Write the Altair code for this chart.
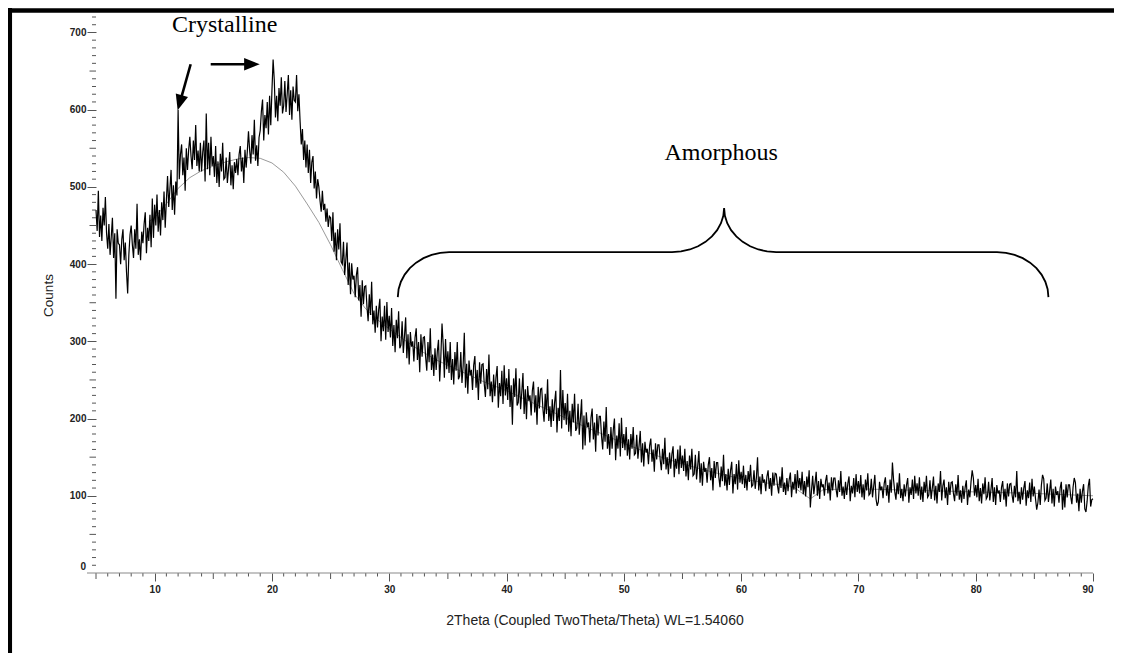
import altair as alt
import numpy as np
import pandas as pd

# ---------------- data (0.1 deg steps from 5.0) ----------------
THETA_START = 5.0
THETA_STEP = 0.1

counts_05_14 = [
    470, 443, 495, 435, 463, 430, 473, 450, 487, 440,
    420, 452, 412, 435, 460, 408, 440, 355, 445, 427,
    425, 400, 432, 445, 405, 428, 390, 362, 412, 438,
    450, 425, 408, 445, 420, 478, 412, 432, 405, 442,
    427, 452, 467, 414, 447, 430, 464, 422, 485, 434,
    477, 450, 490, 442, 470, 437, 480, 457, 494, 447,
    482, 514, 474, 497, 522, 470, 502, 464, 507, 489,
    600, 510, 542, 555, 515, 538, 495, 550, 522, 548,
    565, 540, 523, 560, 535, 580, 527, 547, 520, 557,
    520, 545, 560, 507, 595, 523, 557, 515, 565, 527,
]
counts_15_24 = [
    540, 513, 553, 505, 533, 500, 543, 520, 557, 510,
    512, 538, 505, 524, 545, 502, 528, 497, 532, 518,
    536, 515, 542, 553, 520, 538, 505, 548, 525, 546,
    572, 547, 530, 567, 542, 587, 534, 554, 527, 564,
    573, 598, 613, 560, 593, 576, 610, 568, 618, 580,
    625, 665, 638, 590, 618, 585, 628, 605, 642, 595,
    605, 637, 597, 620, 645, 593, 625, 587, 630, 612,
    610, 645, 598, 620, 585, 555, 575, 535, 560, 525,
    555, 518, 548, 505, 532, 540, 498, 520, 485, 510,
    500, 482, 468, 495, 470, 478, 455, 472, 448, 462,
]
counts_25_34 = [
    460, 430, 467, 416, 441, 405, 445, 419, 453, 403,
    400, 429, 386, 406, 428, 373, 402, 361, 401, 380,
    385, 357, 386, 396, 353, 373, 332, 379, 348, 371,
    372, 345, 326, 361, 334, 377, 322, 340, 311, 346,
    318, 341, 355, 300, 332, 313, 346, 302, 351, 312,
    333, 305, 343, 294, 321, 286, 328, 304, 339, 291,
    295, 326, 285, 307, 331, 278, 309, 270, 312, 293,
    300, 274, 305, 317, 276, 299, 260, 309, 280, 305,
    306, 280, 262, 299, 273, 317, 263, 283, 255, 291,
    263, 287, 302, 248, 280, 323, 296, 253, 303, 264,
]
counts_35_44 = [
    287, 259, 299, 250, 277, 244, 286, 262, 299, 251,
    255, 286, 246, 268, 311, 240, 271, 232, 275, 256,
    263, 237, 269, 281, 240, 263, 224, 273, 245, 270,
    271, 245, 228, 264, 238, 283, 229, 248, 221, 257,
    229, 253, 268, 214, 246, 229, 262, 219, 269, 230,
    252, 224, 264, 215, 243, 192, 252, 228, 265, 217,
    221, 252, 212, 234, 259, 206, 238, 199, 242, 223,
    230, 204, 236, 248, 208, 230, 192, 241, 213, 238,
    239, 213, 196, 232, 206, 251, 197, 216, 189, 225,
    197, 221, 236, 182, 214, 197, 263, 187, 237, 198,
]
counts_45_54 = [
    220, 192, 232, 183, 210, 177, 219, 195, 232, 184,
    188, 219, 179, 201, 225, 160, 204, 165, 208, 189,
    195, 169, 201, 213, 173, 195, 157, 206, 178, 203,
    203, 177, 160, 196, 170, 215, 161, 180, 153, 189,
    161, 185, 200, 146, 178, 161, 194, 151, 201, 162,
    180, 159, 189, 152, 173, 147, 180, 161, 189, 153,
    155, 179, 148, 165, 184, 143, 168, 138, 170, 156,
    161, 141, 165, 174, 144, 160, 131, 168, 147, 166,
    166, 147, 133, 161, 141, 175, 134, 150, 128, 156,
    135, 154, 164, 124, 148, 135, 160, 128, 165, 136,
]
counts_55_64 = [
    152, 132, 161, 125, 145, 120, 152, 134, 161, 126,
    128, 153, 121, 139, 158, 117, 142, 113, 144, 131,
    136, 117, 140, 150, 120, 136, 107, 145, 123, 143,
    143, 124, 111, 138, 119, 153, 113, 128, 107, 135,
    114, 133, 144, 103, 128, 115, 141, 108, 146, 117,
    131, 115, 139, 110, 127, 107, 132, 118, 140, 112,
    114, 133, 109, 123, 150, 107, 125, 102, 128, 117,
    121, 106, 125, 133, 109, 123, 100, 130, 113, 129,
    128, 113, 103, 125, 110, 137, 105, 117, 101, 123,
    106, 121, 130, 98, 118, 108, 128, 103, 133, 110,
]
counts_65_74 = [
    123, 107, 131, 102, 119, 99, 125, 111, 133, 85,
    107, 126, 102, 116, 131, 100, 119, 96, 122, 111,
    115, 100, 119, 127, 103, 117, 94, 124, 107, 123,
    123, 108, 98, 120, 105, 132, 100, 112, 96, 118,
    101, 116, 125, 93, 113, 103, 123, 98, 128, 105,
    119, 103, 127, 98, 115, 95, 121, 107, 129, 101,
    103, 122, 98, 112, 127, 96, 87, 92, 118, 107,
    112, 97, 116, 124, 100, 114, 91, 121, 104, 143,
    120, 105, 95, 117, 102, 129, 97, 109, 93, 115,
    99, 114, 123, 91, 111, 101, 121, 96, 126, 103,
]
counts_75_84 = [
    116, 100, 124, 95, 112, 92, 118, 104, 126, 98,
    101, 120, 96, 110, 125, 94, 113, 90, 116, 105,
    132, 94, 113, 121, 97, 111, 88, 118, 101, 117,
    118, 103, 93, 115, 100, 127, 95, 107, 91, 113,
    96, 111, 120, 88, 108, 98, 118, 133, 123, 100,
    114, 98, 122, 93, 110, 90, 116, 102, 124, 96,
    99, 118, 94, 108, 123, 92, 111, 88, 114, 103,
    107, 92, 111, 119, 95, 109, 86, 116, 99, 115,
    116, 101, 91, 113, 98, 132, 93, 105, 89, 111,
    95, 110, 119, 87, 107, 97, 117, 92, 122, 99,
]
counts_85_90 = [
    112, 96, 82, 91, 108, 88, 114, 127, 122, 94,
    97, 116, 92, 106, 121, 90, 109, 86, 112, 101,
    106, 91, 110, 118, 82, 108, 85, 115, 98, 114,
    114, 99, 89, 111, 123, 117, 91, 103, 80, 109,
    91, 106, 115, 83, 79, 93, 113, 122, 86, 95,
    96,
]

# smooth grey background (amorphous hump) curve
bg_theta = [9.5, 10, 11, 12, 13, 14, 15, 16, 17, 18, 19, 20, 21, 22,
            23, 24, 25, 26, 27, 28, 29, 30, 32, 34, 36, 38, 40, 42, 44, 46, 48,
            50, 52, 54, 56, 58, 60, 62, 64.4, 65.9, 67, 70, 75, 80, 85, 90]
bg_counts = [455, 460, 478, 498, 512, 521, 527, 532, 536,
             538, 537, 531, 519, 501, 478, 454, 425, 393, 362, 342, 328, 316,
             294, 276, 262, 248, 236, 222, 208, 194, 181, 168, 156, 146, 137,
             129, 122, 117, 112, 96, 108, 109, 107, 105, 103, 100]

x_label_ticks = [10, 20, 30, 40, 50, 60, 70, 80, 90]
y_label_ticks = [100, 200, 300, 400, 500, 600, 700]
y_zero_label = ["0"]
y_zero_counts = [8]

# annotations (data coordinates)
text_labels = ["Crystalline", "Amorphous"]
text_theta = [15.97, 58.3]
text_counts = [700.0, 534.6]

arrow_tail_theta = [13.07, 14.78]
arrow_tail_counts = [658.8, 658.8]
arrow_tip_theta = [11.96, 18.96]
arrow_tip_counts = [599.3, 658.8]
arrow_neck_theta = [12.15, 18.28]
arrow_neck_counts = [609.0, 658.8]
arrow_angle = [195.8, 90.0]

brace_left, brace_mid, brace_right = 30.73, 58.55, 86.2
brace_end_counts, brace_bar_counts, brace_tip_counts = 357.3, 415.5, 472.4
brace_curl_w, brace_tip_w = 4.38, 4.44

# ---------------- build tables ----------------
counts = (counts_05_14 + counts_15_24 + counts_25_34 + counts_35_44 + counts_45_54
          + counts_55_64 + counts_65_74 + counts_75_84 + counts_85_90)
theta = np.round(THETA_START + THETA_STEP * np.arange(len(counts)), 1)
scan = pd.DataFrame({"theta": theta, "counts": counts})
bg = pd.DataFrame({"theta": bg_theta, "counts": bg_counts})

phi = np.radians(np.linspace(0, 90, 10))
bx, by = [], []
bx += list(brace_left + brace_curl_w - brace_curl_w * np.cos(phi))
by += list(brace_end_counts + (brace_bar_counts - brace_end_counts) * np.sin(phi))
bx += list(brace_mid - brace_tip_w + brace_tip_w * np.sin(phi))
by += list(brace_tip_counts - (brace_tip_counts - brace_bar_counts) * np.cos(phi))
bx += list(brace_mid + brace_tip_w - brace_tip_w * np.cos(phi))
by += list(brace_bar_counts + (brace_tip_counts - brace_bar_counts) * (1 - np.sin(phi)))
bx += list(brace_right - brace_curl_w + brace_curl_w * np.sin(phi))
by += list(brace_end_counts + (brace_bar_counts - brace_end_counts) * np.cos(phi))
brace = pd.DataFrame({"theta": bx, "counts": by, "idx": np.arange(len(bx))})

texts = pd.DataFrame({"theta": text_theta, "counts": text_counts, "label": text_labels})
shafts = pd.DataFrame({"theta": arrow_tail_theta, "counts": arrow_tail_counts,
                       "theta2": arrow_neck_theta, "counts2": arrow_neck_counts})
heads = pd.DataFrame({"theta": arrow_tip_theta, "counts": arrow_tip_counts, "ang": arrow_angle})
zero_lab = pd.DataFrame({"counts": y_zero_counts, "label": y_zero_label})

y_minor = pd.DataFrame({"counts": [v for v in range(10, 730, 10) if v % 50 != 0]})
y_mid = pd.DataFrame({"counts": list(range(50, 700, 100))})
x_minor = pd.DataFrame({"theta": [v for v in range(6, 90) if v % 5 != 0]})
x_mid = pd.DataFrame({"theta": list(range(5, 90, 10))})
one = pd.DataFrame({"k": [0]})

# ---------------- chart ----------------
W, H = 997, 556
xs = alt.Scale(domain=[5, 90], nice=False, zero=False)
ys = alt.Scale(domain=[0, 720], nice=False, zero=False)
SANS = "Liberation Sans"

xaxis = alt.Axis(values=x_label_ticks, tickSize=8, tickColor="#555", tickWidth=1,
                 domain=False, grid=False, labelFont=SANS, labelFontSize=10,
                 labelFontWeight="bold", labelColor="#222", labelPadding=3,
                 title="2Theta (Coupled TwoTheta/Theta) WL=1.54060", titleFont=SANS,
                 titleFontSize=14, titleFontWeight="normal", titleColor="#222",
                 titlePadding=19)
yaxis = alt.Axis(values=y_label_ticks, tickSize=9, tickColor="#555", tickWidth=1,
                 domain=False, grid=False, labelFont=SANS, labelFontSize=10,
                 labelFontWeight="bold", labelColor="#222", labelPadding=1,
                 title="Counts", titleFont=SANS, titleFontSize=13.5,
                 titleFontWeight="normal", titleColor="#222", titlePadding=14)

X = alt.X("theta:Q", scale=xs)
Y = alt.Y("counts:Q", scale=ys)

bg_line = alt.Chart(bg).mark_line(color="#9a9a9a", strokeWidth=1).encode(
    x=alt.X("theta:Q", scale=xs, axis=xaxis),
    y=alt.Y("counts:Q", scale=ys, axis=yaxis),
)
scan_line = alt.Chart(scan).mark_line(color="#000000", strokeWidth=1.2).encode(x=X, y=Y)

ytick_minor = alt.Chart(y_minor).mark_rule(color="#555", strokeWidth=1).encode(
    y=Y, x=alt.value(-4), x2=alt.value(0))
ytick_mid = alt.Chart(y_mid).mark_rule(color="#555", strokeWidth=1).encode(
    y=Y, x=alt.value(-6.5), x2=alt.value(0))
zero_text = alt.Chart(zero_lab).mark_text(font=SANS, fontSize=10, fontWeight="bold",
                                           color="#222", align="right",
                                           baseline="middle").encode(
    y=Y, x=alt.value(-10), text="label:N")
xtick_minor = alt.Chart(x_minor).mark_rule(color="#555", strokeWidth=1).encode(
    x=X, y=alt.value(H), y2=alt.value(H + 3.5))
xtick_mid = alt.Chart(x_mid).mark_rule(color="#555", strokeWidth=1).encode(
    x=X, y=alt.value(H), y2=alt.value(H + 6))
x_domain = alt.Chart(one).mark_rule(color="#8a8a8a", strokeWidth=1.2).encode(
    x=alt.value(-9), x2=alt.value(W), y=alt.value(H))

frame_top = alt.Chart(one).mark_rule(color="#000", strokeWidth=4.5).encode(
    x=alt.value(-90), x2=alt.value(W + 30), y=alt.value(-6.5))
frame_left = alt.Chart(one).mark_rule(color="#000", strokeWidth=4.5).encode(
    x=alt.value(-86.2), y=alt.value(-9), y2=alt.value(H + 100))

text_layer = alt.Chart(texts).mark_text(font="Liberation Serif", fontSize=24,
                                         align="center", baseline="alphabetic",
                                         color="#000").encode(x=X, y=Y, text="label:N")
shaft_layer = alt.Chart(shafts).mark_rule(color="#000", strokeWidth=2.6).encode(
    x=X, y=Y, x2="theta2:Q", y2="counts2:Q")
head_layer = alt.Chart(heads).mark_point(shape="M0,0L0.65,1.6L-0.65,1.6Z", filled=True,
                                         color="#000", opacity=1, size=380,
                                         strokeWidth=0).encode(
    x=X, y=Y, angle=alt.Angle("ang:Q", scale=None))
brace_layer = alt.Chart(brace).mark_line(color="#000", strokeWidth=1.8).encode(
    x=X, y=Y, order=alt.Order("idx:Q"))

chart = alt.layer(
    bg_line, scan_line, ytick_minor, ytick_mid, zero_text, xtick_minor, xtick_mid,
    x_domain, brace_layer, shaft_layer, head_layer, text_layer, frame_top, frame_left,
).properties(
    width=W, height=H,
    autosize=alt.AutoSizeParams(type="none"),
    padding={"left": 88, "top": 9, "right": 21, "bottom": 80},
    background="white",
).configure_view(stroke=None)

chart.save("out.html", embed_options={"renderer": "svg", "actions": False})
